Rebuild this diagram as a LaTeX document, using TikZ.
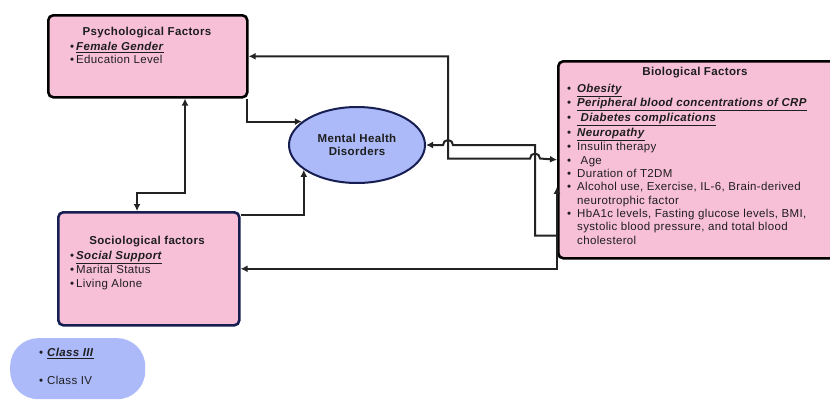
\documentclass[tikz,border=0pt]{standalone}
\usepackage{fontspec}
\setmainfont[LetterSpace=3]{Liberation Sans}
\usetikzlibrary{arrows.meta,shapes.geometric}

\definecolor{factorpink}{RGB}{248,192,215}
\definecolor{mhdblue}{RGB}{172,186,250}
\definecolor{navyline}{RGB}{22,30,82}
\definecolor{linkgray}{RGB}{35,35,35}
\definecolor{txtgray}{RGB}{30,30,30}

\newcommand\txtsize{\fontsize{11.5}{13.3}\selectfont}
\newcommand\bul[1][7pt]{\strut\makebox[#1][l]{•}}
\newcommand\keyitem[1]{\underline{\textbf{\textit{#1}}}}

\tikzset{
	factor/.style={draw=black, line width=2.6pt, rounded corners=5pt, fill=factorpink, inner sep=0pt, anchor=north west},
	head/.style={font=\txtsize\bfseries, text=txtgray, inner sep=0pt},
	items/.style={font=\txtsize, text=txtgray, align=left, anchor=north west, inner sep=0pt},
	link/.style={draw=linkgray, line width=2pt},
	slink/.style={link, -{Latex[length=7pt,width=7pt]}},
	dlink/.style={link, {Latex[length=7pt,width=7pt]}-{Latex[length=7pt,width=7pt]}}
}

\begin{document}
\begin{tikzpicture}[x=1pt,y=-1pt]
	\useasboundingbox (0,0) rectangle (830,399);
	% boxes
	\node[factor, minimum width=199pt, minimum height=82pt] (psych) at (47,14) {};
	\node[factor, draw=navyline, minimum width=181pt, minimum height=113pt] (socio) at (57,211) {};
	\node[factor, minimum width=280pt, minimum height=197pt] (bio) at (557,60) {};
	\node[ellipse, draw=navyline, line width=2pt, fill=mhdblue, minimum width=136pt, minimum height=76pt,
		align=center, font=\txtsize\bfseries, text=txtgray] (mhd) at (357,145) {Mental Health\\Disorders};
	\node[fill=mhdblue, rounded corners=28pt, minimum width=135pt, minimum height=61pt, inner sep=0pt,
		anchor=north west] (cls) at (10,338) {};

	% texts
	\node[head] (psychT) at (147,33) {Psychological Factors};
	\node[items] (psychL) at (70,40.7) {\bul[6pt]\keyitem{Female Gender}\\ \bul[6pt]Education Level};
	\node[head] (socioT) at (147,242) {Sociological factors};
	\node[items] (socioL) at (70,249.7) {\bul[6pt]\keyitem{Social Support}\\ \bul[6pt]Marital Status\\ \bul[6pt]Living Alone};
	\node[head] (bioT) at (695,73) {Biological Factors};
	\node[items] (bioL) at (567,82.7) {\bul[10pt]\keyitem{Obesity}\\
		\bul[10pt]\keyitem{Peripheral blood concentrations of CRP}\\
		\bul[10pt]\keyitem{ Diabetes complications}\\
		\bul[10pt]\keyitem{Neuropathy}\\
		\bul[10pt]Insulin therapy\\
		\bul[10pt] Age\\
		\bul[10pt]Duration of T2DM\\
		\bul[10pt]Alcohol use, Exercise, IL-6, Brain-derived\\
		\strut\hspace*{10pt}neurotrophic factor\\
		\bul[10pt]HbA1c levels, Fasting glucose levels, BMI,\\
		\strut\hspace*{10pt}systolic blood pressure, and total blood\\
		\strut\hspace*{10pt}cholesterol};
	\node[items] (clsL) at (39,346.7) {\bul[8pt]\keyitem{Class III}\\[14.7pt]\bul[8pt]Class IV};

	% connectors
	\coordinate (psJ) at (185,193);
	\coordinate (soJ) at (137,193);
	\coordinate (topJ) at (448,158.5);
	\coordinate (botJ) at (535,158.5);
	\coordinate (hopA) at (topJ |- mhd.east);
	\coordinate (hopB) at (botJ |- mhd.east);

	\draw[dlink] (psych.south -| psJ) -- (psJ) -- (soJ) -- (socio.north -| soJ);
	\draw[slink] ([xshift=-2pt]psych.south east) |- (mhd.157);
	\draw[slink] ([yshift=-4pt]socio.north east) -| (mhd.205);
	\draw[dlink] (psych.east) -| (topJ) -- ([xshift=-5pt]botJ) arc[start angle=180, end angle=0, radius=5pt] -- (bio.west);
	\draw[slink] ([yshift=24pt]bio.south west) -| (hopB) -- ([xshift=5pt]hopA) arc[start angle=0, end angle=180, radius=5pt] -- (mhd.east);
	\draw[dlink] (socio.east) -| ([yshift=-27pt]bio.west);
\end{tikzpicture}
\end{document}
